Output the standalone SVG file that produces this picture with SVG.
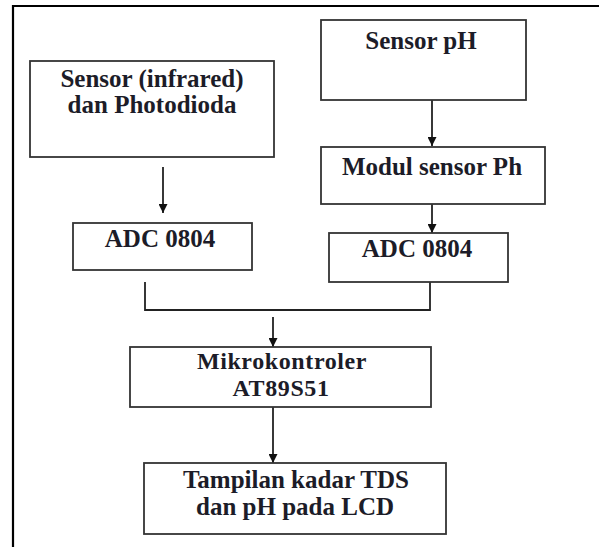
<svg xmlns="http://www.w3.org/2000/svg" width="599" height="547" viewBox="0 0 599 547">
<defs>
<style>
.box{fill:#fff;stroke:#333;stroke-width:1.8}
.t{font-family:"Liberation Serif","Times New Roman",serif;font-weight:bold;font-size:25px;fill:#1c1c28;text-anchor:middle}
.s{font-size:24px;letter-spacing:0.6px}
.ln{fill:none;stroke:#222;stroke-width:1.8}
</style>
<marker id="ah" viewBox="0 0 10 10" refX="10" refY="5" markerWidth="5" markerHeight="5" markerUnits="strokeWidth" orient="auto">
<path d="M0,0 L10,5 L0,10 z" fill="#111"/>
</marker>
</defs>
<rect width="599" height="547" fill="#fff"/>
<g id="frame">
<path d="M13,547 V6 H599" fill="none" stroke="#000" stroke-width="2.2"/>
</g>
<g id="connectors">
<path class="ln" d="M163,167 V213" marker-end="url(#ah)"/>
<path class="ln" d="M432,100 V146" marker-end="url(#ah)"/>
<path class="ln" d="M432,204 V233" marker-end="url(#ah)"/>
<path class="ln" d="M145,282 V310 H430 V282"/>
<path class="ln" d="M273,317 V347" marker-end="url(#ah)"/>
<path class="ln" d="M273,407 V463" marker-end="url(#ah)"/>
</g>
<g id="sensor-ir">
<rect class="box" x="30" y="61" width="244" height="96"/>
<text class="t" x="152" y="87">Sensor (infrared)</text>
<text class="t" x="152" y="113">dan Photodioda</text>
</g>
<g id="sensor-ph">
<rect class="box" x="321" y="20" width="205" height="80"/>
<text class="t" x="421" y="49">Sensor pH</text>
</g>
<g id="modul-ph">
<rect class="box" x="321" y="147" width="224" height="57"/>
<text class="t" x="432" y="175">Modul sensor Ph</text>
</g>
<g id="adc-left">
<rect class="box" x="73" y="223" width="179" height="47"/>
<text class="t" x="160" y="247">ADC 0804</text>
</g>
<g id="adc-right">
<rect class="box" x="329" y="233" width="179" height="49"/>
<text class="t" x="417" y="257">ADC 0804</text>
</g>
<g id="mcu">
<rect class="box" x="130" y="347" width="301" height="60"/>
<text class="t s" x="282" y="369">Mikrokontroler</text>
<text class="t s" x="281" y="396">AT89S51</text>
</g>
<g id="lcd">
<rect class="box" x="144" y="463" width="302" height="71"/>
<text class="t" x="296" y="488">Tampilan kadar TDS</text>
<text class="t" x="295" y="515">dan pH pada LCD</text>
</g>
</svg>
